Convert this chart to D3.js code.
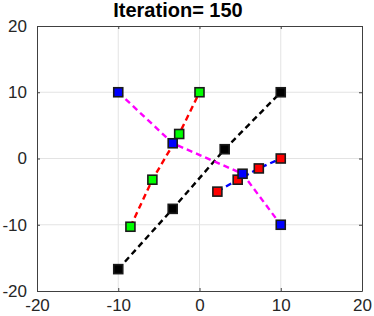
<!DOCTYPE html>
<html>
<head>
<meta charset="utf-8">
<script src="https://cdn.jsdelivr.net/npm/d3@7"></script>
<style>
  body { margin: 0; background: #fff; }
  svg { display: block; }
  text { font-family: "Liberation Sans", Arial, sans-serif; }
</style>
</head>
<body>
<div id="chart"></div>
<script>
var titleText = 'Iteration= 150';
var tickVals = [-20, -10, 0, 10, 20];

// each path: points in drawing order
var blackPts = [[-10, -16.7], [-3.3, -7.6], [3.1, 1.4], [10, 10]];
var greenPts = [[-8.5, -10.3], [-5.8, -3.2], [-2.5, 3.7], [0, 10]];
var redPts = [[2.2, -5.0], [4.7, -3.2], [7.3, -1.5], [10, 0]];
var bluePts = [[-10, 10], [-3.3, 2.3], [5.3, -2.3], [10, -10]];

var series = [
    { pts: blackPts, line: '#000000', fill: '#000000' },
    { pts: greenPts, line: '#ff0000', fill: '#00ff00' },
    { pts: redPts, line: '#0000ff', fill: '#ff0000' },
    { pts: bluePts, line: '#ff00ff', fill: '#0000ff' }
];

var W = 374, H = 316;
var m = { top: 26, right: 12, bottom: 25, left: 37 };

var svg = d3.select('#chart').append('svg')
    .attr('width', W).attr('height', H);

var x = d3.scaleLinear().domain([-20, 20]).range([m.left, W - m.right]);
var y = d3.scaleLinear().domain([-20, 20]).range([H - m.bottom, m.top]);

// grid
var grid = svg.append('g');
tickVals.slice(1, -1).forEach(function(t) {
    grid.append('line')
        .attr('x1', x(t)).attr('x2', x(t))
        .attr('y1', y(-20)).attr('y2', y(20))
        .style('stroke', '#e3e3e3').style('stroke-width', 1);
    grid.append('line')
        .attr('y1', y(t)).attr('y2', y(t))
        .attr('x1', x(-20)).attr('x2', x(20))
        .style('stroke', '#e3e3e3').style('stroke-width', 1);
});

// axes (ticks inward, box)
var axColor = '#404040';
var fmt = function(d) { return String(d); };
var axB = svg.append('g').attr('transform', 'translate(0,' + y(-20) + ')')
    .call(d3.axisBottom(x).tickValues(tickVals).tickFormat(fmt).tickSizeInner(-3).tickSizeOuter(0).tickPadding(8));
var axL = svg.append('g').attr('transform', 'translate(' + x(-20) + ',0)')
    .call(d3.axisLeft(y).tickValues(tickVals).tickFormat(fmt).tickSizeInner(-3).tickSizeOuter(0).tickPadding(10));
var axT = svg.append('g').attr('transform', 'translate(0,' + y(20) + ')')
    .call(d3.axisTop(x).tickValues(tickVals).tickSizeInner(-3).tickSizeOuter(0).tickFormat(''));
var axR = svg.append('g').attr('transform', 'translate(' + x(20) + ',0)')
    .call(d3.axisRight(y).tickValues(tickVals).tickSizeInner(-3).tickSizeOuter(0).tickFormat(''));

[axB, axL, axT, axR].forEach(function(g) {
    g.selectAll('path').style('stroke', axColor).style('stroke-width', 1);
    g.selectAll('line').style('stroke', axColor).style('stroke-width', 1);
    g.selectAll('text')
        .style('font-family', '"Liberation Sans", Arial, sans-serif')
        .style('font-size', '17px')
        .style('fill', '#262626');
});

var line = d3.line().x(function(d) { return x(d[0]); }).y(function(d) { return y(d[1]); });

var ms = 9;
series.forEach(function(s) {
    svg.append('path')
        .datum(s.pts)
        .attr('d', line)
        .style('fill', 'none')
        .style('stroke', s.line)
        .style('stroke-width', 2.4)
        .style('stroke-dasharray', '6,4');

    svg.selectAll(null)
        .data(s.pts)
        .enter().append('rect')
        .attr('x', function(d) { return x(d[0]) - ms / 2; })
        .attr('y', function(d) { return y(d[1]) - ms / 2; })
        .attr('width', ms).attr('height', ms)
        .style('fill', s.fill)
        .style('stroke', '#1a1a1a')
        .style('stroke-width', 1.6);
});

svg.append('text')
    .attr('x', 178).attr('y', 17)
    .attr('text-anchor', 'middle')
    .style('font-weight', 'bold')
    .style('font-size', '20px')
    .style('fill', '#000')
    .text(titleText);
</script>
</body>
</html>
